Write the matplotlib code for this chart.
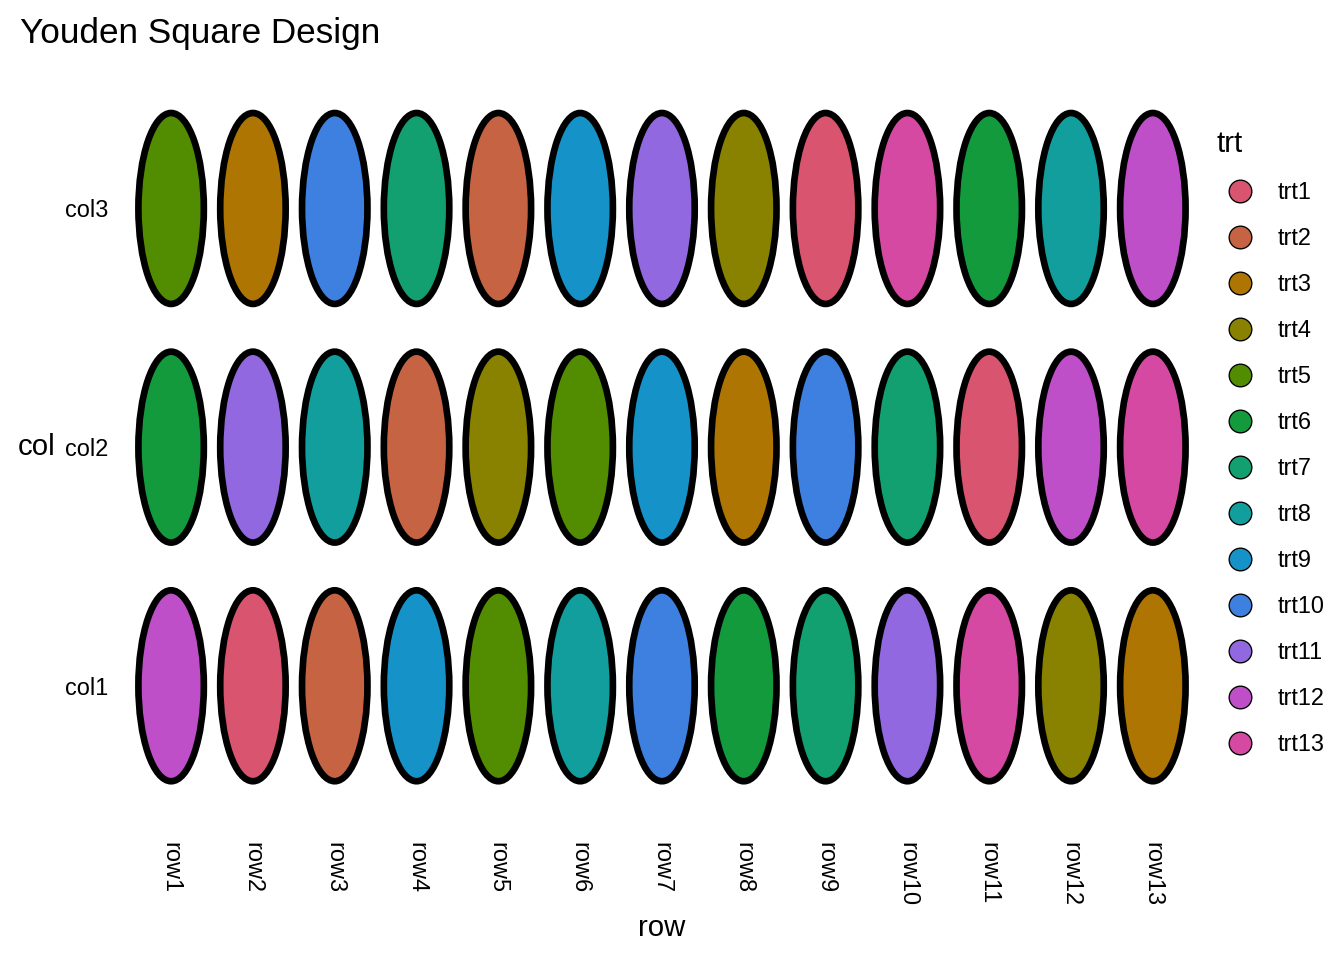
import matplotlib.pyplot as plt
from matplotlib.patches import Ellipse
from matplotlib.lines import Line2D

# data
rows = ["row%d" % i for i in range(1, 14)]
cols = ["col1", "col2", "col3"]
trts = ["trt%d" % i for i in range(1, 14)]
trt_colors = ["#D9546F", "#C66342", "#AE7503", "#888200", "#528C00", "#129A3C", "#13A070",
              "#129E9D", "#1592C8", "#3E80E0", "#9168E0", "#BF4FC8", "#D649A2"]

# treatment number per row, for each col
col1_trt = [12, 1, 2, 9, 5, 8, 10, 6, 7, 11, 13, 4, 3]
col2_trt = [6, 11, 8, 2, 4, 5, 9, 3, 10, 7, 1, 12, 13]
col3_trt = [5, 3, 10, 7, 2, 9, 11, 4, 1, 13, 6, 8, 12]
layout = [col1_trt, col2_trt, col3_trt]

plt.rcParams['font.family'] = ['Liberation Sans', 'DejaVu Sans']

fig = plt.figure(figsize=(7, 5), dpi=192)
ax = fig.add_axes([0.0908, 0.1365, 0.8035, 0.7955])

for j, trt_list in enumerate(layout):
    for i, t in enumerate(trt_list):
        e = Ellipse((i + 1, j + 1), 0.8, 0.8, facecolor=trt_colors[t - 1],
                    edgecolor="black", linewidth=2.5)
        ax.add_patch(e)

ax.set_xlim(0.4, 13.6)
ax.set_ylim(0.4, 3.6)
ax.set_xticks(range(1, 14))
ax.set_xticklabels(rows, rotation=-90, fontsize=8.8, va="top", ha="center")
ax.set_yticks(range(1, 4))
ax.set_yticklabels(cols, fontsize=8.8)
ax.tick_params(length=0, pad=5)
for s in ax.spines.values():
    s.set_visible(False)

ax.set_xlabel("row", fontsize=11, labelpad=3)
ax.set_ylabel("col", fontsize=11, rotation=0, va="center", ha="center")
ax.yaxis.set_label_coords(-0.079, 0.5)
fig.text(0.015, 0.965, "Youden Square Design", fontsize=13.2, va="center", ha="left")

handles = [Line2D([], [], marker="o", linestyle="", markersize=8.5,
                  markerfacecolor=c, markeredgecolor="black", markeredgewidth=0.5)
           for c in trt_colors]
leg = fig.legend(handles, trts, title="trt", loc="upper left",
                 bbox_to_anchor=(0.8896, 0.8865), frameon=False, fontsize=8.8,
                 title_fontsize=11, labelspacing=0.98, handletextpad=0.6,
                 alignment="left")

fig.savefig("out.png", dpi=192)
